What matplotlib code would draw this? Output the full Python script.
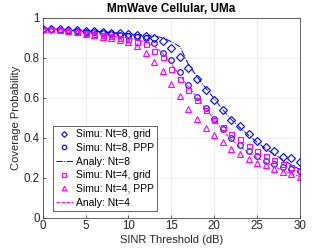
import numpy as np
import matplotlib.pyplot as plt

plt.rcParams['font.family'] = ['Liberation Sans', 'DejaVu Sans']

sinr_db = np.arange(0, 31)

grid_nt8 = [0.945, 0.943, 0.941, 0.939, 0.937, 0.934, 0.931, 0.928, 0.925, 0.921,
            0.917, 0.912, 0.907, 0.900, 0.885, 0.850, 0.805, 0.750, 0.695, 0.640,
            0.590, 0.540, 0.490, 0.458, 0.420, 0.385, 0.355, 0.332, 0.305, 0.298, 0.280]
ppp_nt8 = [0.945, 0.942, 0.939, 0.936, 0.933, 0.930, 0.926, 0.922, 0.918, 0.914,
           0.910, 0.905, 0.897, 0.872, 0.825, 0.790, 0.730, 0.663, 0.605, 0.550,
           0.495, 0.445, 0.397, 0.365, 0.335, 0.310, 0.285, 0.270, 0.255, 0.242, 0.235]
analy_nt8 = [0.945, 0.943, 0.941, 0.939, 0.937, 0.935, 0.932, 0.929, 0.926, 0.923,
             0.920, 0.916, 0.912, 0.907, 0.900, 0.880, 0.855, 0.765, 0.705, 0.648,
             0.595, 0.540, 0.490, 0.450, 0.412, 0.377, 0.345, 0.316, 0.290, 0.264, 0.240]
grid_nt4 = [0.945, 0.942, 0.938, 0.934, 0.930, 0.925, 0.920, 0.913, 0.906, 0.899,
            0.892, 0.878, 0.867, 0.835, 0.805, 0.745, 0.695, 0.638, 0.590, 0.540,
            0.490, 0.455, 0.420, 0.395, 0.360, 0.335, 0.310, 0.290, 0.270, 0.252, 0.235]
ppp_nt4 = [0.945, 0.941, 0.937, 0.932, 0.926, 0.920, 0.913, 0.905, 0.897, 0.888,
           0.878, 0.858, 0.825, 0.778, 0.735, 0.668, 0.607, 0.545, 0.495, 0.447,
           0.413, 0.380, 0.342, 0.318, 0.292, 0.275, 0.262, 0.243, 0.227, 0.217, 0.205]
analy_nt4 = [0.945, 0.942, 0.939, 0.935, 0.931, 0.927, 0.922, 0.917, 0.911, 0.905,
             0.898, 0.890, 0.878, 0.858, 0.822, 0.770, 0.710, 0.655, 0.600, 0.545,
             0.490, 0.435, 0.390, 0.355, 0.325, 0.300, 0.276, 0.255, 0.236, 0.220, 0.205]

fig = plt.figure(figsize=(3.32, 2.49), dpi=100)
ax = fig.add_axes([0.1286, 0.126, 0.775, 0.803])

ms = 4
ax.plot(sinr_db, grid_nt8, 'bD', mfc='none', ms=3.6, mew=0.8, label='Simu: Nt=8, grid')
ax.plot(sinr_db, ppp_nt8, 'bo', mfc='none', ms=ms, mew=0.8, label='Simu: Nt=8, PPP')
ax.plot(sinr_db, analy_nt8, 'b-.', lw=0.7, label='Analy: Nt=8')
ax.plot(sinr_db, grid_nt4, 's', color='#ff00ff', mfc='none', ms=3.6, mew=0.8, label='Simu: Nt=4, grid')
ax.plot(sinr_db, ppp_nt4, '^', color='#ff00ff', mfc='none', ms=ms, mew=0.8, label='Simu: Nt=4, PPP')
ax.plot(sinr_db, analy_nt4, '--', color='#ff00ff', lw=0.7, label='Analy: Nt=4')

ax.set_xlim(0, 30)
ax.set_ylim(0, 1)
ax.set_xticks(range(0, 31, 5))
ax.set_yticks([0, 0.2, 0.4, 0.6, 0.8, 1])
ax.set_yticklabels(['0', '0.2', '0.4', '0.6', '0.8', '1'])
ax.grid(True, color='#ebebeb', lw=0.6)
ax.set_axisbelow(True)
ax.tick_params(direction='in', labelsize=8.3, length=2.5, width=0.5, colors='#262626', pad=2)
for s in ax.spines.values():
    s.set_linewidth(0.5)
    s.set_color('#262626')

ax.set_xlabel('SINR Threshold (dB)', fontsize=8, color='#262626', labelpad=2)
ax.set_ylabel('Coverage Probability', fontsize=8, color='#262626', labelpad=2)
ax.set_title('MmWave Cellular, UMa', fontsize=8.5, fontweight='bold', pad=4)

leg = ax.legend(loc='lower left', bbox_to_anchor=(0.04, 0.035), fontsize=7.5,
                frameon=True, fancybox=False, edgecolor='#262626', framealpha=1,
                handlelength=1.6, handletextpad=0.3, borderpad=0.3, labelspacing=0.35,
                borderaxespad=0, markerscale=0.8)
leg.get_frame().set_linewidth(0.5)

plt.savefig('out.png', dpi=100)
